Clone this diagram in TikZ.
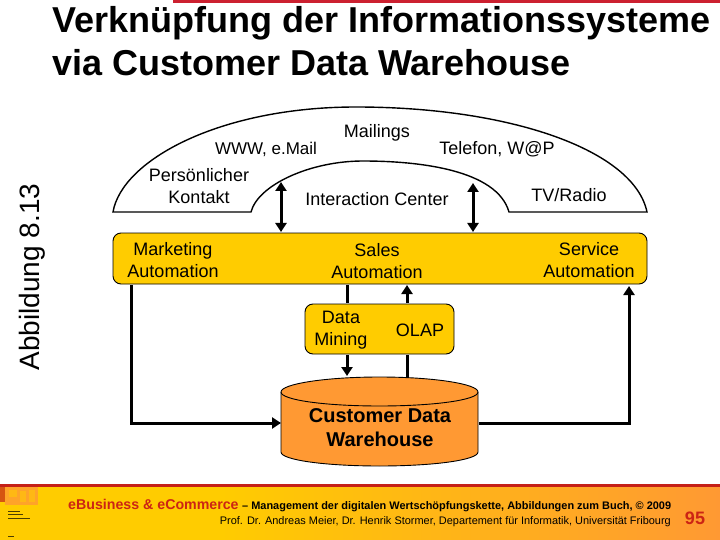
\documentclass[tikz,border=0pt]{standalone}
\usepackage{fontspec}
\setmainfont{Liberation Sans}
\usetikzlibrary{arrows.meta}
\definecolor{boxy}{RGB}{255,204,0}
\definecolor{cyl}{RGB}{255,153,51}
\definecolor{barred}{RGB}{196,32,24}
\definecolor{foot}{RGB}{204,36,20}
\definecolor{topred}{RGB}{204,32,48}
\tikzset{
  px/.style={x=1pt,y=-1pt},
  lab/.style={font=\fontsize{18}{21.5}\selectfont,align=center,inner sep=0pt,text=black},
  yellowbox/.style={draw=black,line width=0.9pt,fill=boxy,rounded corners=8pt},
  tip/.style={-{Triangle[length=9pt,width=11pt]}},
  both/.style={line width=3pt,{Triangle[length=9pt,width=11pt]}-{Triangle[length=9pt,width=11pt]}},
  thickline/.style={line width=3pt},
  titletext/.style={anchor=base west,inner sep=0pt,font=\bfseries\fontsize{36}{42}\selectfont},
  coverline/.style={draw=black!70!boxy,line width=0.7pt}
}
\begin{document}
\begin{tikzpicture}[px]
\useasboundingbox (0,0) rectangle (720,540);
\fill[white] (0,0) rectangle (720,540);
\fill[topred] (173,0) rectangle (720,3);
% footer
\fill[boxy] (0,486) rectangle (220,540);
\shade[left color=boxy,right color=cyl] (220,486) rectangle (720,540);
\fill[barred] (0,484) rectangle (720,487);
% cover thumbnail
\fill[cyl!80!boxy] (5,487) rectangle (38,505);
\fill[barred!70!boxy] (0,487) rectangle (5,502);
\fill[boxy!60!cyl] (9,490) rectangle (17,497);
\fill[boxy!60!cyl] (20,491) rectangle (26,502);
\fill[boxy!60!cyl] (29,490) rectangle (35,502);
\draw[coverline] (8,511) -- (20,511);
\draw[coverline] (8,514) -- (23,514);
\draw[coverline,line width=0.4pt] (8,518) -- (30,518);
\draw[coverline,line width=0.5pt] (8,536) -- (14,536);
% title
\node[titletext] (t1) at (52,33) {Verknüpfung der Informationssysteme};
\node[titletext] (t2) at (52,76) {via Customer Data Warehouse};
\node[rotate=90,inner sep=0pt,font=\fontsize{28}{32}\selectfont] (ab) at (32,277) {Abbildung 8.13};
% channel arc
\draw[line width=1.4pt,fill=white] (113,212)
  .. controls (122,160) and (220,107) .. (356,107)
  .. controls (510,107) and (634,150) .. (647,212)
  -- (509,212)
  .. controls (497,170) and (420,161) .. (363,161)
  .. controls (310,161) and (258,185) .. (251,212) -- cycle;
\node[lab,font=\fontsize{17}{21}\selectfont] (www) at (266,149) {WWW, e.Mail};
\node[lab] (mail) at (377,133) {Mailings};
\node[lab] (tel) at (497,149) {Telefon, W@P};
\node[lab] (pers) at (199,186) {Persönlicher\\Kontakt};
\node[lab] (ic) at (377,199) {Interaction Center};
\node[lab] (tv) at (569,195) {TV/Radio};
% automation
\draw[yellowbox] (113,233) rectangle (647,284);
\node[lab] (mark) at (173,260) {Marketing\\Automation};
\node[lab] (sales) at (377,261) {Sales\\Automation};
\node[lab] (serv) at (589,260) {Service\\Automation};
% analysis box
\draw[yellowbox] (305,304) rectangle (454,354);
\node[lab] (dm) at (341,330) {Data\\Mining};
\node[lab] (olap) at (420,330) {OLAP};
% cylinder
\draw[line width=0.9pt,fill=cyl] (281,392) -- (281,452)
  .. controls (281,460) and (325,466) .. (379.5,466)
  .. controls (434,466) and (478,460) .. (478,452) -- (478,392)
  .. controls (478,384) and (434,377) .. (379.5,377)
  .. controls (325,377) and (281,384) .. (281,392) -- cycle;
\draw[line width=0.9pt] (281,392) .. controls (281,400) and (325,406) .. (379.5,406)
  .. controls (434,406) and (478,400) .. (478,392);
\node[lab,font=\bfseries\fontsize{20}{24}\selectfont] (cdw) at (380,428) {Customer Data\\Warehouse};
% connectors
\coordinate (ic1) at (281,182);
\coordinate (ic2) at (281,232);
\coordinate (ic3) at (473,183);
\coordinate (ic4) at (473,232);
\draw[both] (ic1) -- (ic2);
\draw[both] (ic3) -- (ic4);
\coordinate (a1) at (131.5,285);
\coordinate (a2) at (131.5,423);
\coordinate (a3) at (281,423);
\draw[thickline,tip] (a1) -- (a2) -- (a3);
\coordinate (b1) at (479,423);
\coordinate (b2) at (629,423);
\coordinate (b3) at (629,286);
\draw[thickline,tip] (b1) -- (b2) -- (b3);
\coordinate (c1) at (347,285);
\coordinate (c2) at (347,303);
\coordinate (c3) at (347,355);
\coordinate (c4) at (347,376);
\draw[thickline] (c1) -- (c2);
\draw[thickline,tip] (c3) -- (c4);
\coordinate (d1) at (407,377);
\coordinate (d2) at (407,355);
\coordinate (d3) at (407,303);
\coordinate (d4) at (407,285);
\draw[thickline] (d1) -- (d2);
\draw[thickline,tip] (d3) -- (d4);
% footer text
\node[anchor=base west,inner sep=0pt,text=foot,font=\bfseries\fontsize{14.2}{16}\selectfont] (f1) at (68,509) {eBusiness \& eCommerce};
\node[anchor=base west,inner sep=0pt,font=\bfseries\fontsize{10.95}{12}\selectfont] (f2) at (242,509) {– Management der digitalen Wertschöpfungskette, Abbildungen zum Buch, © 2009};
\node[anchor=base east,inner sep=0pt,font=\fontsize{10.95}{12}\selectfont] (f3) at (671,524) {Prof. Dr. Andreas Meier, Dr. Henrik Stormer, Departement für Informatik, Universität Fribourg};
\node[anchor=center,inner sep=0pt,text=foot,font=\bfseries\fontsize{18}{20}\selectfont] (pg) at (695,518) {95};
\end{tikzpicture}
\end{document}
